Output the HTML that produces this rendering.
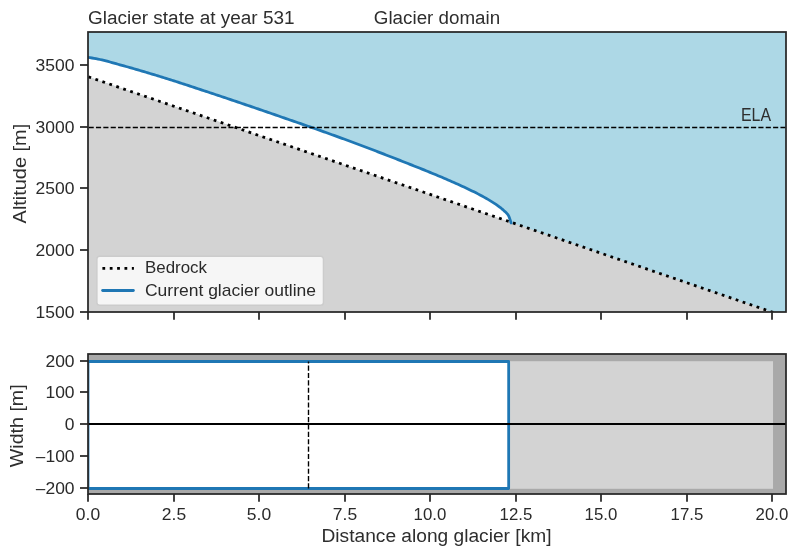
<!DOCTYPE html>
<html><head><meta charset="utf-8"><title>Glacier plot</title>
<style>html,body{margin:0;padding:0;background:#fff;width:799px;height:556px;overflow:hidden}svg{display:block}text{font-family:"Liberation Sans",sans-serif}</style>
</head><body>
<svg width="799" height="556" viewBox="0 0 799 556" style="will-change:transform">
<rect width="799" height="556" fill="#fff"/>
<defs><clipPath id="ct"><rect x="88" y="32" width="698" height="280"/></clipPath><clipPath id="cb"><rect x="88" y="354" width="698" height="140"/></clipPath></defs>
<g clip-path="url(#ct)">
<rect x="88" y="32" width="698" height="280" fill="#add8e6"/>
<path d="M88.00,57.45 L90.00,57.71 L92.00,58.00 L94.00,58.33 L96.00,58.69 L98.00,59.08 L100.00,59.50 L102.00,59.95 L104.00,60.42 L106.00,60.93 L108.00,61.46 L110.00,62.00 L112.00,62.56 L114.00,63.12 L116.00,63.68 L118.00,64.25 L120.00,64.80 L122.00,65.35 L124.00,65.91 L126.00,66.47 L128.00,67.03 L130.00,67.60 L132.00,68.18 L134.00,68.75 L136.00,69.33 L138.00,69.91 L140.00,70.50 L142.00,71.09 L144.00,71.68 L146.00,72.27 L148.00,72.87 L150.00,73.46 L152.00,74.06 L154.00,74.67 L156.00,75.27 L158.00,75.88 L160.00,76.49 L162.00,77.11 L164.00,77.73 L166.00,78.35 L168.00,78.97 L170.00,79.60 L172.00,80.23 L174.00,80.87 L176.00,81.51 L178.00,82.16 L180.00,82.81 L182.00,83.46 L184.00,84.11 L186.00,84.77 L188.00,85.43 L190.00,86.09 L192.00,86.75 L194.00,87.42 L196.00,88.08 L198.00,88.74 L200.00,89.40 L202.00,90.06 L204.00,90.72 L206.00,91.38 L208.00,92.05 L210.00,92.71 L212.00,93.37 L214.00,94.04 L216.00,94.71 L218.00,95.37 L220.00,96.04 L222.00,96.71 L224.00,97.38 L226.00,98.05 L228.00,98.73 L230.00,99.40 L232.00,100.07 L234.00,100.75 L236.00,101.43 L238.00,102.10 L240.00,102.78 L242.00,103.46 L244.00,104.14 L246.00,104.82 L248.00,105.50 L250.00,106.18 L252.00,106.87 L254.00,107.55 L256.00,108.23 L258.00,108.92 L260.00,109.60 L262.00,110.29 L264.00,110.98 L266.00,111.67 L268.00,112.35 L270.00,113.04 L272.00,113.73 L274.00,114.42 L276.00,115.11 L278.00,115.81 L280.00,116.50 L282.00,117.19 L284.00,117.89 L286.00,118.58 L288.00,119.27 L290.00,119.96 L292.00,120.66 L294.00,121.35 L296.00,122.04 L298.00,122.73 L300.00,123.43 L302.00,124.12 L304.00,124.82 L306.00,125.51 L308.00,126.21 L310.00,126.91 L312.00,127.61 L314.00,128.31 L316.00,129.01 L318.00,129.72 L320.00,130.42 L322.00,131.13 L324.00,131.84 L326.00,132.55 L328.00,133.27 L330.00,133.98 L332.00,134.70 L334.00,135.42 L336.00,136.14 L338.00,136.87 L340.00,137.60 L342.00,138.33 L344.00,139.07 L346.00,139.80 L348.00,140.54 L350.00,141.28 L352.00,142.02 L354.00,142.76 L356.00,143.51 L358.00,144.26 L360.00,145.01 L362.00,145.76 L364.00,146.51 L366.00,147.27 L368.00,148.03 L370.00,148.79 L372.00,149.55 L374.00,150.31 L376.00,151.07 L378.00,151.84 L380.00,152.61 L382.00,153.38 L384.00,154.15 L386.00,154.93 L388.00,155.70 L390.00,156.48 L392.00,157.26 L394.00,158.04 L396.00,158.83 L398.00,159.61 L400.00,160.40 L402.00,161.19 L404.00,161.98 L406.00,162.76 L408.00,163.55 L410.00,164.34 L412.00,165.13 L414.00,165.92 L416.00,166.71 L418.00,167.51 L420.00,168.31 L422.00,169.11 L424.00,169.91 L426.00,170.72 L428.00,171.53 L430.00,172.35 L432.00,173.17 L434.00,173.99 L436.00,174.82 L438.00,175.66 L440.00,176.50 L442.00,177.34 L444.00,178.20 L446.00,179.06 L448.00,179.93 L450.00,180.80 L452.00,181.68 L454.00,182.57 L456.00,183.46 L458.00,184.35 L460.00,185.26 L462.00,186.17 L464.00,187.09 L466.00,188.03 L468.00,188.97 L470.00,189.92 L472.00,190.89 L474.00,191.87 L476.00,192.86 L478.00,193.87 L480.00,194.90 L482.00,195.97 L484.00,197.10 L486.00,198.25 L488.00,199.41 L490.00,200.60 L492.00,201.82 L494.00,203.09 L496.00,204.40 L498.00,205.79 L500.00,207.30 L500.25,207.50 L500.50,207.70 L500.75,207.90 L501.00,208.10 L501.25,208.31 L501.50,208.52 L501.75,208.73 L502.00,208.94 L502.25,209.15 L502.50,209.37 L502.75,209.59 L503.00,209.81 L503.25,210.03 L503.50,210.25 L503.75,210.47 L504.00,210.70 L504.25,210.93 L504.50,211.15 L504.75,211.38 L505.00,211.60 L505.25,211.83 L505.50,212.06 L505.75,212.30 L506.00,212.54 L506.25,212.79 L506.50,213.05 L506.75,213.32 L507.00,213.60 L507.25,213.89 L507.50,214.18 L507.75,214.49 L508.00,214.82 L508.25,215.19 L508.50,215.60 L508.75,216.10 L509.00,216.69 L509.25,217.34 L509.50,218.00 L509.75,218.67 L510.00,219.38 L510.25,220.12 L510.50,220.90 L510.75,221.74 L511.00,222.63 L511.10,223.00 L88.00,76.69 Z" fill="#fff"/>
<path d="M88,76.69 L771.86,312 L88,312 Z" fill="#d3d3d3"/>
<path d="M88.45,76.84 L785.68,316.76" stroke="#000" stroke-width="2.78" stroke-dasharray="2.78 4.58" fill="none"/>
<path d="M88.00,57.45 L90.00,57.71 L92.00,58.00 L94.00,58.33 L96.00,58.69 L98.00,59.08 L100.00,59.50 L102.00,59.95 L104.00,60.42 L106.00,60.93 L108.00,61.46 L110.00,62.00 L112.00,62.56 L114.00,63.12 L116.00,63.68 L118.00,64.25 L120.00,64.80 L122.00,65.35 L124.00,65.91 L126.00,66.47 L128.00,67.03 L130.00,67.60 L132.00,68.18 L134.00,68.75 L136.00,69.33 L138.00,69.91 L140.00,70.50 L142.00,71.09 L144.00,71.68 L146.00,72.27 L148.00,72.87 L150.00,73.46 L152.00,74.06 L154.00,74.67 L156.00,75.27 L158.00,75.88 L160.00,76.49 L162.00,77.11 L164.00,77.73 L166.00,78.35 L168.00,78.97 L170.00,79.60 L172.00,80.23 L174.00,80.87 L176.00,81.51 L178.00,82.16 L180.00,82.81 L182.00,83.46 L184.00,84.11 L186.00,84.77 L188.00,85.43 L190.00,86.09 L192.00,86.75 L194.00,87.42 L196.00,88.08 L198.00,88.74 L200.00,89.40 L202.00,90.06 L204.00,90.72 L206.00,91.38 L208.00,92.05 L210.00,92.71 L212.00,93.37 L214.00,94.04 L216.00,94.71 L218.00,95.37 L220.00,96.04 L222.00,96.71 L224.00,97.38 L226.00,98.05 L228.00,98.73 L230.00,99.40 L232.00,100.07 L234.00,100.75 L236.00,101.43 L238.00,102.10 L240.00,102.78 L242.00,103.46 L244.00,104.14 L246.00,104.82 L248.00,105.50 L250.00,106.18 L252.00,106.87 L254.00,107.55 L256.00,108.23 L258.00,108.92 L260.00,109.60 L262.00,110.29 L264.00,110.98 L266.00,111.67 L268.00,112.35 L270.00,113.04 L272.00,113.73 L274.00,114.42 L276.00,115.11 L278.00,115.81 L280.00,116.50 L282.00,117.19 L284.00,117.89 L286.00,118.58 L288.00,119.27 L290.00,119.96 L292.00,120.66 L294.00,121.35 L296.00,122.04 L298.00,122.73 L300.00,123.43 L302.00,124.12 L304.00,124.82 L306.00,125.51 L308.00,126.21 L310.00,126.91 L312.00,127.61 L314.00,128.31 L316.00,129.01 L318.00,129.72 L320.00,130.42 L322.00,131.13 L324.00,131.84 L326.00,132.55 L328.00,133.27 L330.00,133.98 L332.00,134.70 L334.00,135.42 L336.00,136.14 L338.00,136.87 L340.00,137.60 L342.00,138.33 L344.00,139.07 L346.00,139.80 L348.00,140.54 L350.00,141.28 L352.00,142.02 L354.00,142.76 L356.00,143.51 L358.00,144.26 L360.00,145.01 L362.00,145.76 L364.00,146.51 L366.00,147.27 L368.00,148.03 L370.00,148.79 L372.00,149.55 L374.00,150.31 L376.00,151.07 L378.00,151.84 L380.00,152.61 L382.00,153.38 L384.00,154.15 L386.00,154.93 L388.00,155.70 L390.00,156.48 L392.00,157.26 L394.00,158.04 L396.00,158.83 L398.00,159.61 L400.00,160.40 L402.00,161.19 L404.00,161.98 L406.00,162.76 L408.00,163.55 L410.00,164.34 L412.00,165.13 L414.00,165.92 L416.00,166.71 L418.00,167.51 L420.00,168.31 L422.00,169.11 L424.00,169.91 L426.00,170.72 L428.00,171.53 L430.00,172.35 L432.00,173.17 L434.00,173.99 L436.00,174.82 L438.00,175.66 L440.00,176.50 L442.00,177.34 L444.00,178.20 L446.00,179.06 L448.00,179.93 L450.00,180.80 L452.00,181.68 L454.00,182.57 L456.00,183.46 L458.00,184.35 L460.00,185.26 L462.00,186.17 L464.00,187.09 L466.00,188.03 L468.00,188.97 L470.00,189.92 L472.00,190.89 L474.00,191.87 L476.00,192.86 L478.00,193.87 L480.00,194.90 L482.00,195.97 L484.00,197.10 L486.00,198.25 L488.00,199.41 L490.00,200.60 L492.00,201.82 L494.00,203.09 L496.00,204.40 L498.00,205.79 L500.00,207.30 L500.25,207.50 L500.50,207.70 L500.75,207.90 L501.00,208.10 L501.25,208.31 L501.50,208.52 L501.75,208.73 L502.00,208.94 L502.25,209.15 L502.50,209.37 L502.75,209.59 L503.00,209.81 L503.25,210.03 L503.50,210.25 L503.75,210.47 L504.00,210.70 L504.25,210.93 L504.50,211.15 L504.75,211.38 L505.00,211.60 L505.25,211.83 L505.50,212.06 L505.75,212.30 L506.00,212.54 L506.25,212.79 L506.50,213.05 L506.75,213.32 L507.00,213.60 L507.25,213.89 L507.50,214.18 L507.75,214.49 L508.00,214.82 L508.25,215.19 L508.50,215.60 L508.75,216.10 L509.00,216.69 L509.25,217.34 L509.50,218.00 L509.75,218.67 L510.00,219.38 L510.25,220.12 L510.50,220.90 L510.75,221.74 L511.00,222.63 L511.10,223.00" stroke="#1f77b4" stroke-width="2.78" fill="none" stroke-linecap="round" stroke-linejoin="round"/>
<line x1="88.6" y1="127.5" x2="786" y2="127.5" stroke="#000" stroke-width="1.39" stroke-dasharray="5.14 2.22"/>
</g>
<text x="771" y="120.6" font-family="Liberation Sans" font-size="17.6" fill="#2e2e2e" text-anchor="end" textLength="30" lengthAdjust="spacingAndGlyphs">ELA</text>
<rect x="96.9" y="256.2" width="226.5" height="49.0" rx="2.8" fill="#f6f6f6" stroke="#cccccc" stroke-width="1.4"/>
<line x1="102.4" y1="268.3" x2="133.9" y2="268.3" stroke="#000" stroke-width="2.78" stroke-dasharray="2.78 4.58"/>
<line x1="102.6" y1="290.5" x2="133.4" y2="290.5" stroke="#1f77b4" stroke-width="2.78" stroke-linecap="round"/>
<text x="145" y="273.2" font-family="Liberation Sans" font-size="16.2" fill="#2a2a2a" textLength="62" lengthAdjust="spacingAndGlyphs">Bedrock</text>
<text x="145" y="296.3" font-family="Liberation Sans" font-size="16.2" fill="#2a2a2a" textLength="171" lengthAdjust="spacingAndGlyphs">Current glacier outline</text>
<rect x="88" y="32" width="698" height="280" fill="none" stroke="#262626" stroke-width="1.74"/>
<line x1="80" y1="312.00" x2="88" y2="312.00" stroke="#262626" stroke-width="1.74"/>
<text x="74.4" y="317.60" font-family="Liberation Sans" font-size="16.2" fill="#2a2a2a" text-anchor="end" textLength="38.9" lengthAdjust="spacingAndGlyphs">1500</text>
<line x1="80" y1="250.00" x2="88" y2="250.00" stroke="#262626" stroke-width="1.74"/>
<text x="74.4" y="255.60" font-family="Liberation Sans" font-size="16.2" fill="#2a2a2a" text-anchor="end" textLength="38.9" lengthAdjust="spacingAndGlyphs">2000</text>
<line x1="80" y1="188.00" x2="88" y2="188.00" stroke="#262626" stroke-width="1.74"/>
<text x="74.4" y="193.60" font-family="Liberation Sans" font-size="16.2" fill="#2a2a2a" text-anchor="end" textLength="38.9" lengthAdjust="spacingAndGlyphs">2500</text>
<line x1="80" y1="127.00" x2="88" y2="127.00" stroke="#262626" stroke-width="1.74"/>
<text x="74.4" y="132.60" font-family="Liberation Sans" font-size="16.2" fill="#2a2a2a" text-anchor="end" textLength="38.9" lengthAdjust="spacingAndGlyphs">3000</text>
<line x1="80" y1="65.00" x2="88" y2="65.00" stroke="#262626" stroke-width="1.74"/>
<text x="74.4" y="70.60" font-family="Liberation Sans" font-size="16.2" fill="#2a2a2a" text-anchor="end" textLength="38.9" lengthAdjust="spacingAndGlyphs">3500</text>
<line x1="88.00" y1="312" x2="88.00" y2="319.8" stroke="#262626" stroke-width="1.74"/>
<line x1="174.00" y1="312" x2="174.00" y2="319.8" stroke="#262626" stroke-width="1.74"/>
<line x1="259.00" y1="312" x2="259.00" y2="319.8" stroke="#262626" stroke-width="1.74"/>
<line x1="345.00" y1="312" x2="345.00" y2="319.8" stroke="#262626" stroke-width="1.74"/>
<line x1="430.00" y1="312" x2="430.00" y2="319.8" stroke="#262626" stroke-width="1.74"/>
<line x1="516.00" y1="312" x2="516.00" y2="319.8" stroke="#262626" stroke-width="1.74"/>
<line x1="601.00" y1="312" x2="601.00" y2="319.8" stroke="#262626" stroke-width="1.74"/>
<line x1="687.00" y1="312" x2="687.00" y2="319.8" stroke="#262626" stroke-width="1.74"/>
<line x1="772.00" y1="312" x2="772.00" y2="319.8" stroke="#262626" stroke-width="1.74"/>
<text x="88" y="23.8" font-family="Liberation Sans" font-size="17.6" fill="#2e2e2e" textLength="206.6" lengthAdjust="spacingAndGlyphs">Glacier state at year 531</text>
<text x="437" y="23.8" font-family="Liberation Sans" font-size="17.6" fill="#2e2e2e" text-anchor="middle" textLength="126.3" lengthAdjust="spacingAndGlyphs">Glacier domain</text>
<text transform="translate(25.8,173.6) rotate(-90)" x="0" y="0" font-family="Liberation Sans" font-size="17.6" fill="#2e2e2e" text-anchor="middle" textLength="99.6" lengthAdjust="spacingAndGlyphs">Altitude [m]</text>
<g clip-path="url(#cb)">
<rect x="88" y="354" width="698" height="140" fill="#a9a9a9"/>
<rect x="88" y="361.2" width="685.03" height="127.6" fill="#d3d3d3"/>
<rect x="88" y="361.5" width="420.66" height="127" fill="#fff" stroke="#1f77b4" stroke-width="2.78" stroke-linejoin="round"/>
<line x1="88" y1="424" x2="786" y2="424" stroke="#000" stroke-width="2.08"/>
<line x1="308.5" y1="488.5" x2="308.5" y2="361.5" stroke="#000" stroke-width="1.39" stroke-dasharray="5.14 2.22"/>
</g>
<rect x="88" y="354" width="698" height="140" fill="none" stroke="#262626" stroke-width="1.74"/>
<line x1="80" y1="361.00" x2="88" y2="361.00" stroke="#262626" stroke-width="1.74"/>
<text x="74.6" y="366.60" font-family="Liberation Sans" font-size="16.2" fill="#2a2a2a" text-anchor="end" textLength="29.16" lengthAdjust="spacingAndGlyphs">200</text>
<line x1="80" y1="392.00" x2="88" y2="392.00" stroke="#262626" stroke-width="1.74"/>
<text x="74.6" y="397.60" font-family="Liberation Sans" font-size="16.2" fill="#2a2a2a" text-anchor="end" textLength="29.16" lengthAdjust="spacingAndGlyphs">100</text>
<line x1="80" y1="424.00" x2="88" y2="424.00" stroke="#262626" stroke-width="1.74"/>
<text x="74.6" y="429.60" font-family="Liberation Sans" font-size="16.2" fill="#2a2a2a" text-anchor="end" textLength="9.72" lengthAdjust="spacingAndGlyphs">0</text>
<line x1="80" y1="456.00" x2="88" y2="456.00" stroke="#262626" stroke-width="1.74"/>
<text x="74.6" y="461.60" font-family="Liberation Sans" font-size="16.2" fill="#2a2a2a" text-anchor="end" textLength="29.16" lengthAdjust="spacingAndGlyphs">100</text>
<text x="34.65" y="462.80" font-family="Liberation Sans" font-size="16.2" fill="#2a2a2a" textLength="11.3" lengthAdjust="spacingAndGlyphs">−</text>
<line x1="80" y1="488.00" x2="88" y2="488.00" stroke="#262626" stroke-width="1.74"/>
<text x="74.6" y="493.60" font-family="Liberation Sans" font-size="16.2" fill="#2a2a2a" text-anchor="end" textLength="29.16" lengthAdjust="spacingAndGlyphs">200</text>
<text x="34.65" y="494.80" font-family="Liberation Sans" font-size="16.2" fill="#2a2a2a" textLength="11.3" lengthAdjust="spacingAndGlyphs">−</text>
<line x1="88.00" y1="494" x2="88.00" y2="501.7" stroke="#262626" stroke-width="1.74"/>
<text x="88.00" y="519.8" font-family="Liberation Sans" font-size="16.2" fill="#2a2a2a" text-anchor="middle" textLength="24.30" lengthAdjust="spacingAndGlyphs">0.0</text>
<line x1="174.00" y1="494" x2="174.00" y2="501.7" stroke="#262626" stroke-width="1.74"/>
<text x="174.00" y="519.8" font-family="Liberation Sans" font-size="16.2" fill="#2a2a2a" text-anchor="middle" textLength="24.30" lengthAdjust="spacingAndGlyphs">2.5</text>
<line x1="259.00" y1="494" x2="259.00" y2="501.7" stroke="#262626" stroke-width="1.74"/>
<text x="259.00" y="519.8" font-family="Liberation Sans" font-size="16.2" fill="#2a2a2a" text-anchor="middle" textLength="24.30" lengthAdjust="spacingAndGlyphs">5.0</text>
<line x1="345.00" y1="494" x2="345.00" y2="501.7" stroke="#262626" stroke-width="1.74"/>
<text x="345.00" y="519.8" font-family="Liberation Sans" font-size="16.2" fill="#2a2a2a" text-anchor="middle" textLength="24.30" lengthAdjust="spacingAndGlyphs">7.5</text>
<line x1="430.00" y1="494" x2="430.00" y2="501.7" stroke="#262626" stroke-width="1.74"/>
<text x="430.00" y="519.8" font-family="Liberation Sans" font-size="16.2" fill="#2a2a2a" text-anchor="middle" textLength="32.72" lengthAdjust="spacingAndGlyphs">10.0</text>
<line x1="516.00" y1="494" x2="516.00" y2="501.7" stroke="#262626" stroke-width="1.74"/>
<text x="516.00" y="519.8" font-family="Liberation Sans" font-size="16.2" fill="#2a2a2a" text-anchor="middle" textLength="32.72" lengthAdjust="spacingAndGlyphs">12.5</text>
<line x1="601.00" y1="494" x2="601.00" y2="501.7" stroke="#262626" stroke-width="1.74"/>
<text x="601.00" y="519.8" font-family="Liberation Sans" font-size="16.2" fill="#2a2a2a" text-anchor="middle" textLength="32.72" lengthAdjust="spacingAndGlyphs">15.0</text>
<line x1="687.00" y1="494" x2="687.00" y2="501.7" stroke="#262626" stroke-width="1.74"/>
<text x="687.00" y="519.8" font-family="Liberation Sans" font-size="16.2" fill="#2a2a2a" text-anchor="middle" textLength="32.72" lengthAdjust="spacingAndGlyphs">17.5</text>
<line x1="772.00" y1="494" x2="772.00" y2="501.7" stroke="#262626" stroke-width="1.74"/>
<text x="772.00" y="519.8" font-family="Liberation Sans" font-size="16.2" fill="#2a2a2a" text-anchor="middle" textLength="32.72" lengthAdjust="spacingAndGlyphs">20.0</text>
<text x="436.5" y="541.5" font-family="Liberation Sans" font-size="17.6" fill="#2e2e2e" text-anchor="middle" textLength="230" lengthAdjust="spacingAndGlyphs">Distance along glacier [km]</text>
<text transform="translate(22.7,425.8) rotate(-90)" x="0" y="0" font-family="Liberation Sans" font-size="17.6" fill="#2e2e2e" text-anchor="middle" textLength="82.9" lengthAdjust="spacingAndGlyphs">Width [m]</text>
</svg>
</body></html>
